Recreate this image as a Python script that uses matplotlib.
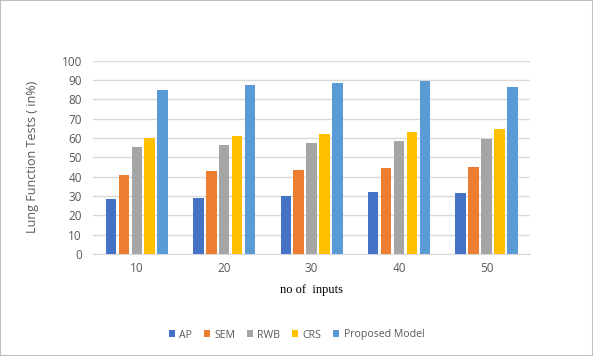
import numpy as np
import matplotlib.pyplot as plt
from matplotlib.patches import Rectangle

# datos
inputs = ['10', '20', '30', '40', '50']
series = ['AP', 'SEM', 'RWB', 'CRS', 'Proposed Model']
ap = [28.4, 29.2, 30.0, 32.3, 31.5]
sem = [41.1, 42.9, 43.4, 44.7, 45.1]
rwb = [55.3, 56.6, 57.3, 58.7, 59.4]
crs = [60.2, 61.2, 62.2, 63.0, 64.6]
proposed = [85.0, 87.2, 88.6, 89.5, 86.4]
colores = ['#4472C4', '#ED7D31', '#A5A5A5', '#FFC000', '#5B9BD5']

valores = [ap, sem, rwb, crs, proposed]

plt.rcParams['font.family'] = ['Open Sans', 'DejaVu Sans']

fig = plt.figure(figsize=(5.93, 3.56), dpi=100)
ax = fig.add_axes([0.157, 0.2865, 0.737, 0.543])

x = np.arange(len(inputs))
paso = 0.148
ancho = 0.12
for i, (nombre, vals) in enumerate(zip(series, valores)):
    ax.bar(x + (i - 2) * paso, vals, width=ancho, color=colores[i], label=nombre,
           zorder=3)

ax.set_xlim(-0.5, len(inputs) - 0.5)
ax.set_ylim(0, 100)
ax.set_yticks(range(0, 101, 10))
ax.set_xticks(x)
ax.set_xticklabels(inputs)
ax.yaxis.grid(True, color='#D9D9D9', linewidth=1, zorder=0)
for s in ['top', 'right', 'left']:
    ax.spines[s].set_visible(False)
ax.spines['bottom'].set_color('#D9D9D9')
ax.tick_params(axis='both', length=0, labelsize=8.5, colors='#595959')
ax.tick_params(axis='y', pad=8)
ax.tick_params(axis='x', pad=6)

ax.set_ylabel('Lung Function Tests ( in%)', fontsize=9, color='#595959', labelpad=16)
ax.set_xlabel('no of  inputs', fontsize=9, family='Liberation Serif', color='black',
              labelpad=6)

ax.legend(loc='center', bbox_to_anchor=(0.5, 1 - 335 / 356),
          bbox_transform=fig.transFigure, ncol=5, frameon=False, fontsize=7.6,
          handlelength=0.6, handleheight=0.6, handletextpad=0.4, columnspacing=1.1,
          labelcolor='#595959')

# borde gris de la figura
fig.patches.append(Rectangle((0, 0), 1, 1, transform=fig.transFigure, fill=False,
                             edgecolor='#BFBFBF', linewidth=1.5))

plt.savefig('out.png', dpi=100)
